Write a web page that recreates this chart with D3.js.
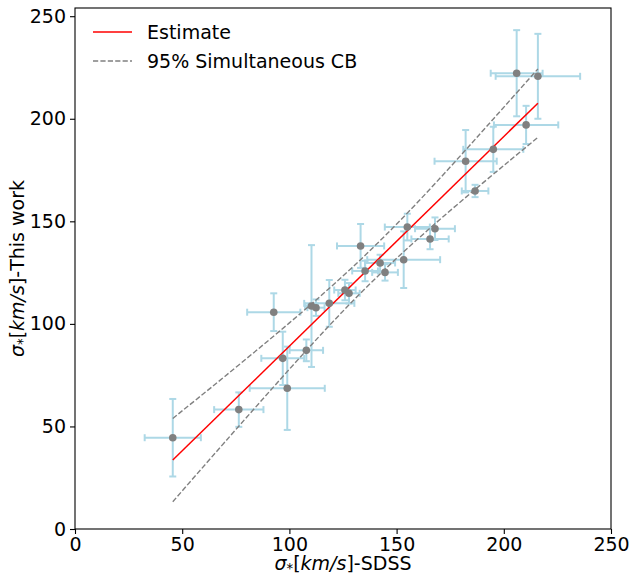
<!DOCTYPE html>
<html>
<head>
<meta charset="utf-8">
<script src="https://cdn.jsdelivr.net/npm/d3@7"></script>
<style>
  html, body { margin: 0; padding: 0; background: #fff; }
  svg { display: block; font-family: "DejaVu Sans", sans-serif; }
</style>
</head>
<body>
<svg id="chart" width="632" height="577"></svg>
<script>
// Velocity dispersion: SDSS value vs. this work, with 1-sigma errors (km/s)
const sdss     = [45.6, 76.4, 92.7, 110.3, 112.4, 118.6, 125.9, 127.8, 133.2, 135.3, 142.3, 144.6, 153.3, 165.6, 155.0, 167.9, 96.9, 107.9, 99.0, 210.4, 195.1, 182.2, 186.6, 206.0, 215.9];
const sdssErr  = [13.1, 11.5, 12.4, 3.0, 4.0, 11.7, 5.0, 5.0, 11.0, 6.0, 7.0, 6.0, 17.0, 8.7, 10.5, 9.3, 10.0, 7.8, 17.5, 15.0, 14.0, 14.5, 6.2, 12.1, 19.7];
const thisWork = [44.5, 58.2, 105.7, 108.7, 107.9, 110.0, 116.5, 114.9, 138.0, 125.8, 129.7, 125.1, 131.3, 141.4, 147.2, 146.4, 83.2, 87.1, 68.6, 197.0, 185.1, 179.3, 164.8, 222.2, 220.7];
const workErr  = [18.9, 8.4, 9.2, 29.7, 4.0, 11.4, 5.0, 5.0, 10.7, 5.0, 4.0, 4.0, 13.8, 5.0, 6.5, 5.5, 13.0, 5.3, 20.3, 9.3, 11.0, 15.2, 3.0, 21.0, 20.7];

// Fitted relation and its 95% simultaneous confidence band
const fitX      = [45.6, 215.9];
const fitY      = [33.6, 207.6];
const bandX     = [45.6, 70, 100, 130, 160, 190, 215.9];
const bandUpper = [53.9, 74.5, 100.5, 128.2, 159.5, 193.9, 224.3];
const bandLower = [13.3, 42.5, 77.9, 111.6, 141.5, 168.5, 190.9];

const xTicks = [0, 50, 100, 150, 200, 250];
const yTicks = [0, 50, 100, 150, 200, 250];

const svg = d3.select("#chart");
const mLeft = 75, mRight = 611, mTop = 8, mBottom = 529;
const x = d3.scaleLinear().domain([0, 250]).range([mLeft, mRight]);
const y = d3.scaleLinear().domain([0, 254]).range([mBottom, mTop]);

const FS = 19;

// Axes
const gx = svg.append("g").attr("transform", `translate(0,${mBottom})`)
  .call(d3.axisBottom(x).tickValues(xTicks).tickSize(5).tickPadding(4).tickFormat(d3.format("d")));
const gy = svg.append("g").attr("transform", `translate(${mLeft},0)`)
  .call(d3.axisLeft(y).tickValues(yTicks).tickSize(5).tickPadding(4).tickFormat(d3.format("d")));
[gx, gy].forEach(g => {
  g.select(".domain").remove();
  g.selectAll(".tick line").attr("stroke", "#000").attr("stroke-width", 1.1);
  g.selectAll(".tick text").attr("fill", "#000").style("font-size", FS + "px")
    .style("font-family", "'DejaVu Sans', sans-serif");
});

const plot = svg.append("g");
const pts = sdss.map((v, i) => ({ x: v, xe: sdssErr[i], y: thisWork[i], ye: workErr[i] }));

// Error bars
const eb = plot.append("g").attr("stroke", "#add8e6").attr("stroke-width", 2).attr("fill", "none");
const cap = 3.5;
pts.forEach(p => {
  const cx = x(p.x), cy = y(p.y);
  const x0 = x(p.x - p.xe), x1 = x(p.x + p.xe);
  const y0 = y(p.y - p.ye), y1 = y(p.y + p.ye);
  eb.append("line").attr("x1", cx).attr("x2", cx).attr("y1", y0).attr("y2", y1);
  eb.append("line").attr("x1", x0).attr("x2", x1).attr("y1", cy).attr("y2", cy);
  eb.append("line").attr("x1", cx - cap).attr("x2", cx + cap).attr("y1", y0).attr("y2", y0);
  eb.append("line").attr("x1", cx - cap).attr("x2", cx + cap).attr("y1", y1).attr("y2", y1);
  eb.append("line").attr("x1", x0).attr("x2", x0).attr("y1", cy - cap).attr("y2", cy + cap);
  eb.append("line").attr("x1", x1).attr("x2", x1).attr("y1", cy - cap).attr("y2", cy + cap);
});

// Confidence band
const bandLine = d3.line().x(d => x(d[0])).y(d => y(d[1])).curve(d3.curveNatural);
[bandUpper, bandLower].forEach(arr => {
  plot.append("path")
    .attr("d", bandLine(bandX.map((v, i) => [v, arr[i]])))
    .attr("fill", "none").attr("stroke", "#808080").attr("stroke-width", 1.4)
    .attr("stroke-dasharray", "5.2,2.2");
});

// Estimate
plot.append("path")
  .attr("d", d3.line().x(d => x(d[0])).y(d => y(d[1]))(fitX.map((v, i) => [v, fitY[i]])))
  .attr("fill", "none").attr("stroke", "red").attr("stroke-width", 1.5);

// Points
plot.append("g").selectAll("circle").data(pts).join("circle")
  .attr("cx", d => x(d.x)).attr("cy", d => y(d.y)).attr("r", 3.8).attr("fill", "#808080");

// Frame
svg.append("rect").attr("x", mLeft).attr("y", mTop).attr("width", mRight - mLeft).attr("height", mBottom - mTop)
  .attr("fill", "none").attr("stroke", "#000").attr("stroke-width", 1.1);

// Legend
const legend = svg.append("g");
const legendItems = [
  { label: "Estimate", color: "red", dash: null, w: 1.5 },
  { label: "95% Simultaneous CB", color: "#808080", dash: "5.2,2.2", w: 1.4 }
];
legendItems.forEach((it, i) => {
  const ly = 32 + i * 29;
  legend.append("line").attr("x1", 93).attr("x2", 132).attr("y1", ly).attr("y2", ly)
    .attr("stroke", it.color).attr("stroke-width", it.w).attr("stroke-dasharray", it.dash);
  legend.append("text").attr("x", 147).attr("y", ly).attr("dy", "0.35em")
    .style("font-size", FS + "px").attr("fill", "#000").text(it.label);
});

// Axis labels with math-style sigma
function sigmaLabel(t, suffix) {
  t.append("tspan").style("font-style", "italic").text("σ");
  t.append("tspan").attr("baseline-shift", "-25%").style("font-size", (FS * 0.7) + "px").text("*");
  t.append("tspan").text("[");
  t.append("tspan").style("font-style", "italic").text("km/s");
  t.append("tspan").text("]" + suffix);
}
const xl = svg.append("text").attr("x", (mLeft + mRight) / 2).attr("y", 570)
  .attr("text-anchor", "middle").style("font-size", FS + "px").attr("fill", "#000");
sigmaLabel(xl, "-SDSS");
const yl = svg.append("text").attr("transform", `translate(24,${(mTop + mBottom) / 2}) rotate(-90)`)
  .attr("text-anchor", "middle").style("font-size", FS + "px").attr("fill", "#000");
sigmaLabel(yl, "-This work");
</script>
</body>
</html>
